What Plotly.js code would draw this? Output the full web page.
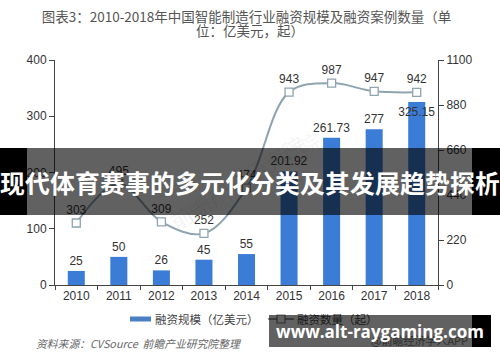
<!DOCTYPE html>
<html>
<head>
<meta charset="utf-8">
<script src="https://cdn.plot.ly/plotly-3.0.1.min.js"></script>
<style>
  html, body { margin: 0; padding: 0; background: #fff; }
  #wrap { position: relative; width: 500px; height: 362px; overflow: hidden; }
  #chart { position: absolute; left: 0; top: 0; width: 500px; height: 362px; }
  .banner { position: absolute; color: #fff; font-weight: bold; white-space: nowrap; display: flex; align-items: center; justify-content: center; }
  #banner1 { left: 0; top: 148px; width: 500px; height: 67px;
    background: linear-gradient(to right, #000 0, #000 27px, rgba(0,0,0,0.62) 27px, rgba(0,0,0,0.62) 472px, #000 472px, #000 500px);
    font-family: "Noto Sans CJK SC", sans-serif; font-size: 24.8px; letter-spacing: 0.2px; }
  #banner2 { left: 269px; top: 315px; width: 222px; height: 32px;
    background: linear-gradient(to right, rgba(0,0,0,0.62) 0, rgba(0,0,0,0.62) 203px, #000 203px, #000 222px);
    font-family: "Open Sans", "DejaVu Sans", sans-serif; font-size: 17px; }
</style>
</head>
<body>
<div id="wrap">
  <div id="chart"></div>
  <div class="banner" id="banner1">现代体育赛事的多元化分类及其发展趋势探析</div>
  <div class="banner" id="banner2">www.alt-raygaming.com</div>
</div>
<script>
// ---- data ----
const years = ['2010', '2011', '2012', '2013', '2014', '2015', '2016', '2017', '2018'];
const financeAmount = [25, 50, 26, 45, 55, 201.92, 261.73, 277, 325.15];   // 融资规模（亿美元）
const dealCount = [303, 495, 309, 252, 474, 943, 987, 947, 942];            // 融资数量（起）
const leftTicks = [0, 100, 200, 300, 400];
const rightTicks = [0, 220, 440, 660, 880, 1100];
const seriesNames = ['融资规模（亿美元）', '融资数量（起）'];
const titleLine1 = '图表3：2010-2018年中国智能制造行业融资规模及融资案例数量（单';
const titleLine2 = '位：亿美元，起）';
const sourceText = '资料来源：CVSource  前瞻产业研究院整理';

// ---- geometry helpers (plot area: x 55..438, y 60..285) ----
const L = 55, R = 438, T = 60, B = 285;
const px = x => (x - L) / (R - L);
const py = y => (B - y) / (B - T);

const font = '"Liberation Sans", "Noto Sans CJK SC", Arial, sans-serif';
const cjk = '"Noto Sans CJK SC", "Liberation Sans", sans-serif';
const barColor = '#3b7dd6';
const lineColor = '#8fa4b1';

// last bar label sits on the bar top in the reference
const barTextPos = financeAmount.map((v, i) => i === financeAmount.length - 1 ? 'inside' : 'outside');

const traces = [
  {
    type: 'bar', x: years, y: financeAmount, name: seriesNames[0],
    marker: { color: barColor }, width: 0.4,
    text: financeAmount.map(String), textposition: barTextPos, constraintext: 'none',
    insidetextanchor: 'end', textangle: 0,
    textfont: { family: font, size: 12, color: '#333' },
    insidetextfont: { family: font, size: 12, color: '#333' },
    outsidetextfont: { family: font, size: 12, color: '#333' },
    cliponaxis: false, hoverinfo: 'x+y'
  },
  {
    type: 'scatter', x: years, y: dealCount, yaxis: 'y2', name: seriesNames[1],
    mode: 'lines+markers+text',
    line: { shape: 'spline', smoothing: 1, color: lineColor, width: 2 },
    marker: { symbol: 'square', size: 8, color: '#fff', line: { color: lineColor, width: 1.3 } },
    text: dealCount.map(String), textposition: 'top center',
    textfont: { family: font, size: 12, color: '#333' }, cliponaxis: false
  }
];

const annotations = [
  { xref: 'paper', yref: 'paper', x: px(250), y: py(30), text: titleLine2, showarrow: false,
    xanchor: 'center', yanchor: 'middle', font: { family: cjk, size: 13.5, color: '#555' } },
  // legend texts
  { xref: 'paper', yref: 'paper', x: px(153), y: py(319), text: seriesNames[0], showarrow: false,
    xanchor: 'left', yanchor: 'middle', font: { family: cjk, size: 11.5, color: '#444' } },
  { xref: 'paper', yref: 'paper', x: px(295), y: py(319), text: seriesNames[1], showarrow: false,
    xanchor: 'left', yanchor: 'middle', font: { family: cjk, size: 11.5, color: '#444' } },
  // source
  { xref: 'paper', yref: 'paper', x: px(34), y: py(343), text: '<i>' + sourceText + '</i>', showarrow: false,
    xanchor: 'left', yanchor: 'middle', font: { family: cjk, size: 10.8, color: '#666' } },
  { xref: 'paper', yref: 'paper', x: px(470), y: py(340), text: '@前瞻经济学人APP', showarrow: false,
    xanchor: 'right', yanchor: 'middle', font: { family: cjk, size: 11, color: '#777' } },
  // faint watermarks
  { xref: 'paper', yref: 'paper', x: px(160), y: py(125), text: '前瞻产业研究院', showarrow: false, textangle: -32,
    font: { family: cjk, size: 22, color: 'rgba(160,160,160,0.12)' } },
  { xref: 'paper', yref: 'paper', x: px(330), y: py(235), text: '前瞻产业研究院', showarrow: false, textangle: -32,
    font: { family: cjk, size: 22, color: 'rgba(160,160,160,0.10)' } }
];

const shapes = [
  // legend swatch for bars
  { type: 'rect', xref: 'paper', yref: 'paper', x0: px(130), x1: px(151), y0: py(321.5), y1: py(316.5),
    fillcolor: '#4a7fc4', line: { width: 0 } },
  // legend symbol for line
  { type: 'line', xref: 'paper', yref: 'paper', x0: px(268), x1: px(294), y0: py(319), y1: py(319),
    line: { color: '#777', width: 1.5 } },
  { type: 'rect', xref: 'paper', yref: 'paper', x0: px(277), x1: px(285), y0: py(323), y1: py(315),
    fillcolor: '#fff', line: { color: '#777', width: 1.2 } }
];

const layout = {
  width: 500, height: 362,
  margin: { l: L, r: 500 - R, t: T, b: 362 - B, autoexpand: false },
  paper_bgcolor: '#fff', plot_bgcolor: '#fff',
  showlegend: false,
  title: { text: titleLine1, x: 0.5, xanchor: 'center', xref: 'paper', y: 1 - 17 / 362, yanchor: 'middle',
    font: { family: cjk, size: 13.5, color: '#555' } },
  xaxis: {
    type: 'category', range: [-0.5, 8.5], showline: true, linecolor: '#444', linewidth: 1,
    ticks: 'outside', tickson: 'boundaries', ticklen: 4, tickcolor: '#444',
    tickfont: { family: font, size: 12, color: '#333' }, showgrid: false, zeroline: false, fixedrange: true
  },
  yaxis: {
    range: [0, 400], tickvals: leftTicks, showline: true, linecolor: '#444', linewidth: 1,
    ticks: 'outside', ticklen: 5, tickcolor: '#444',
    tickfont: { family: font, size: 12, color: '#333' }, showgrid: false, zeroline: false, fixedrange: true
  },
  yaxis2: {
    overlaying: 'y', side: 'right', range: [0, 1100], tickvals: rightTicks, showline: true, linecolor: '#444', linewidth: 1,
    ticks: 'outside', ticklen: 5, tickcolor: '#444',
    tickfont: { family: font, size: 12, color: '#333' }, showgrid: false, zeroline: false, fixedrange: true
  },
  annotations: annotations,
  shapes: shapes
};

Plotly.newPlot('chart', traces, layout, { displayModeBar: false, staticPlot: true });
</script>
</body>
</html>
